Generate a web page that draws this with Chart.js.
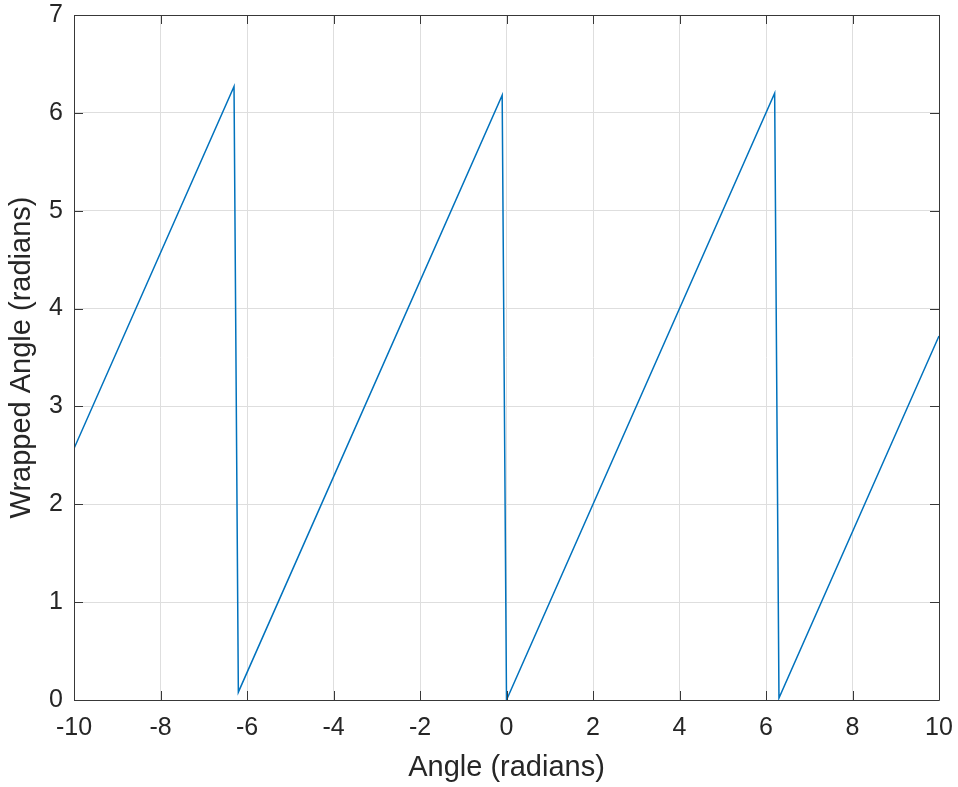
<!DOCTYPE html>
<html>
<head>
<meta charset="utf-8">
<script src="https://cdn.jsdelivr.net/npm/chart.js@4.4.1/dist/chart.umd.min.js"></script>
<style>
html,body{margin:0;padding:0;background:#fff;}
#wrap{width:958px;height:787px;position:relative;}
</style>
</head>
<body>
<div id="wrap"><canvas id="c" width="958" height="787"></canvas></div>
<script>
// Data (vertices of the sawtooth)
const angleX = [-10, -6.3, -6.2, -0.1, 0.0, 6.2, 6.3, 10];
const wrappedY = [2.57, 6.27, 0.08, 6.18, 0.0, 6.20, 0.02, 3.72];
const xTicks = [-10, -8, -6, -4, -2, 0, 2, 4, 6, 8, 10];
const yTicks = [0, 1, 2, 3, 4, 5, 6, 7];

const points = angleX.map((x, i) => ({x: x, y: wrappedY[i]}));
const axisColor = '#383838';
const textColor = '#262626';
const fontFam = '"Liberation Sans", Arial, Helvetica, sans-serif';

const boxPlugin = {
  id: 'matlabBox',
  afterDatasetsDraw(chart) {
    const ctx = chart.ctx;
    const a = chart.chartArea;
    const xs = chart.scales.x, ys = chart.scales.y;
    ctx.save();
    ctx.strokeStyle = axisColor;
    ctx.lineWidth = 1;
    ctx.beginPath();
    ctx.rect(Math.round(a.left) + 0.5, Math.round(a.top) + 0.5,
             Math.round(a.right - a.left), Math.round(a.bottom - a.top));
    ctx.stroke();
    const tl = 9;
    ctx.beginPath();
    xTicks.forEach(v => {
      const p = Math.round(xs.getPixelForValue(v)) + 0.5;
      ctx.moveTo(p, a.bottom); ctx.lineTo(p, a.bottom - tl);
      ctx.moveTo(p, a.top); ctx.lineTo(p, a.top + tl);
    });
    yTicks.forEach(v => {
      const p = Math.round(ys.getPixelForValue(v)) + 0.5;
      ctx.moveTo(a.left, p); ctx.lineTo(a.left + tl, p);
      ctx.moveTo(a.right, p); ctx.lineTo(a.right - tl, p);
    });
    ctx.stroke();
    ctx.restore();
  }
};

new Chart(document.getElementById('c'), {
  type: 'scatter',
  data: {
    datasets: [{
      data: points,
      showLine: true,
      borderColor: '#0072BD',
      backgroundColor: '#0072BD',
      borderWidth: 1.5,
      pointRadius: 0,
      tension: 0
    }]
  },
  options: {
    responsive: false,
    animation: false,
    devicePixelRatio: 1,
    layout: {padding: {top: 15, right: 19, left: 0, bottom: 0}},
    plugins: {legend: {display: false}, tooltip: {enabled: false}},
    scales: {
      x: {
        type: 'linear', min: -10, max: 10,
        afterBuildTicks: s => { s.ticks = xTicks.map(v => ({value: v})); },
        afterFit: s => { s.height = 87; s.paddingLeft = 0; s.paddingRight = 0; },
        grid: {color: '#dedede', lineWidth: 1, drawTicks: false},
        border: {display: false},
        ticks: {color: textColor, font: {family: fontFam, size: 25}, padding: 13, maxRotation: 0},
        title: {display: true, text: 'Angle (radians)', color: textColor,
                font: {family: fontFam, size: 29}, padding: {top: 0, bottom: 2}}
      },
      y: {
        type: 'linear', min: 0, max: 7,
        afterBuildTicks: s => { s.ticks = yTicks.map(v => ({value: v})); },
        afterFit: s => { s.width = 74; s.paddingTop = 0; s.paddingBottom = 0; },
        grid: {color: '#dedede', lineWidth: 1, drawTicks: false},
        border: {display: false},
        ticks: {color: textColor, font: {family: fontFam, size: 25}, padding: 11},
        title: {display: true, text: 'Wrapped Angle (radians)', color: textColor,
                font: {family: fontFam, size: 29}, padding: {top: 5, bottom: 0}}
      }
    }
  },
  plugins: [boxPlugin]
});
</script>
</body>
</html>
